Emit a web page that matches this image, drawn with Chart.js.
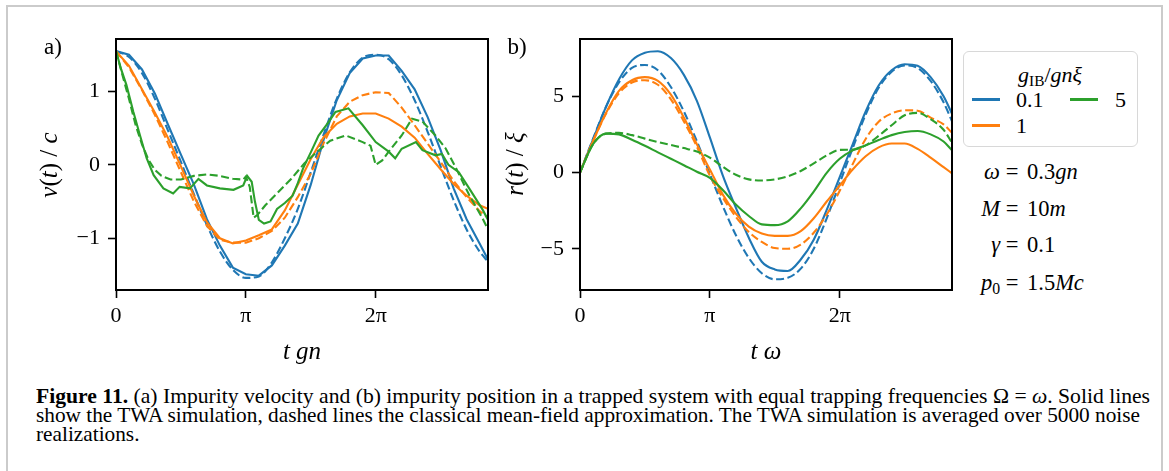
<!DOCTYPE html>
<html>
<head>
<meta charset="utf-8">
<script src="https://cdn.jsdelivr.net/npm/chart.js@4.4.1/dist/chart.umd.min.js"></script>
<style>
  body { margin: 0; background: #fff; width: 1169px; height: 471px; overflow: hidden; position: relative;
         font-family: 'Liberation Serif', serif; color: #000; }
  #frame { position: absolute; left: 6px; top: 5px; width: 1157px; height: 600px; border: 2px solid #cbcbcb; box-sizing: border-box; }
  canvas { position: absolute; top: 0; }
  .c { position: absolute; transform: translate(-50%, -50%); white-space: nowrap; line-height: 1; }
  .l { position: absolute; transform: translateY(-50%); white-space: nowrap; line-height: 1; }
  .r { position: absolute; transform: translateY(-50%); white-space: nowrap; line-height: 1; text-align: right; }
  sub { font-size: 70%; vertical-align: -0.25em; line-height: 0; }
  #legend { position: absolute; left: 963px; top: 51px; width: 175px; height: 96px; border: 1.5px solid #d8d8d8;
            border-radius: 6px; box-sizing: border-box; background: #fff; }
  .seg { position: absolute; width: 28px; height: 2.6px; }
  .cap { position: absolute; left: 36px; font-size: 21.5px; line-height: 19px; white-space: nowrap; transform-origin: 0 50%; }
</style>
</head>
<body>
<div id="frame"></div>
<canvas id="chartA" width="500" height="345" style="left:0px"></canvas>
<canvas id="chartB" width="445" height="345" style="left:520px"></canvas>

<div class="c" style="left:53px; top:46px; font-size:23px;">a)</div>
<div class="c" style="left:517px; top:46px; font-size:23px;">b)</div>

<div class="c" style="left:48px; top:165px; font-size:25px; transform: translate(-50%,-50%) rotate(-90deg);"><i>v</i>(<i>t</i>) / <i>c</i></div>
<div class="c" style="left:514px; top:164px; font-size:25px; transform: translate(-50%,-50%) rotate(-90deg);"><i>r</i>(<i>t</i>) / <i>ξ</i></div>
<div class="c" style="left:302px; top:350px; font-size:25px;"><i>t gn</i></div>
<div class="c" style="left:766px; top:350px; font-size:25px;"><i>t ω</i></div>

<div id="legend"></div>
<div class="c" style="left:1050px; top:75px; font-size:22px;"><i>g</i><sub>IB</sub>/<i>gnξ</i></div>
<div class="seg" style="left:972px; top:98px; background:#1f77b4;"></div>
<div class="l" style="left:1016px; top:100px; font-size:22px;">0.1</div>
<div class="seg" style="left:1070px; top:98px; background:#2ca02c;"></div>
<div class="l" style="left:1115px; top:100px; font-size:22px;">5</div>
<div class="seg" style="left:972px; top:124px; background:#ff7f0e;"></div>
<div class="l" style="left:1016px; top:126px; font-size:22px;">1</div>

<div class="r" style="right:169px; top:172px; font-size:22.5px;"><i>ω</i></div>
<div class="c" style="left:1012px; top:172px; font-size:22.5px;">=</div>
<div class="l" style="left:1027px; top:172px; font-size:22.5px;">0.3<i>gn</i></div>
<div class="r" style="right:169px; top:209px; font-size:22.5px;"><i>M</i></div>
<div class="c" style="left:1012px; top:209px; font-size:22.5px;">=</div>
<div class="l" style="left:1027px; top:209px; font-size:22.5px;">10<i>m</i></div>
<div class="r" style="right:169px; top:245px; font-size:22.5px;"><i>γ</i></div>
<div class="c" style="left:1012px; top:245px; font-size:22.5px;">=</div>
<div class="l" style="left:1027px; top:245px; font-size:22.5px;">0.1</div>
<div class="r" style="right:169px; top:283px; font-size:22.5px;"><i>p</i><sub>0</sub></div>
<div class="c" style="left:1012px; top:283px; font-size:22.5px;">=</div>
<div class="l" style="left:1027px; top:283px; font-size:22.5px;">1.5<i>Mc</i></div>

<div class="cap" id="cap1" style="top:387px;"><b>Figure 11.</b> (a) Impurity velocity and (b) impurity position in a trapped system with equal trapping frequencies Ω = <i>ω</i>. Solid lines</div>
<div class="cap" id="cap2" style="top:406px;">show the TWA simulation, dashed lines the classical mean-field approximation. The TWA simulation is averaged over 5000 noise</div>
<div class="cap" id="cap3" style="top:425px;">realizations.</div>

<script>
// time axis in units of pi
const tGrid = [0, 0.1, 0.2, 0.3, 0.4, 0.5, 0.6, 0.7, 0.8, 0.9, 1.0, 1.1, 1.2, 1.3, 1.4, 1.5,
  1.6, 1.7, 1.8, 1.9, 2.0, 2.1, 2.2, 2.3, 2.4, 2.5, 2.6, 2.7, 2.8, 2.865];

// (a) velocity v(t)/c
const vBlueTwa = [1.55, 1.50, 1.30, 0.97, 0.55, 0.14, -0.27, -0.74, -1.1, -1.4, -1.49, -1.51, -1.37, -1.1, -0.8,
  -0.27, 0.35, 0.88, 1.25, 1.45, 1.49, 1.49, 1.28, 1.03, 0.65, 0.2, -0.32, -0.74, -1.07, -1.29];
const vBlueMf = [1.55, 1.47, 1.25, 0.9, 0.47, 0.04, -0.4, -0.82, -1.18, -1.43, -1.54, -1.52, -1.33, -1.0, -0.6,
  -0.1, 0.42, 0.9, 1.26, 1.46, 1.5, 1.44, 1.22, 0.88, 0.45, -0.02, -0.48, -0.88, -1.18, -1.32];
const vOrangeTwa = [1.55, 1.35, 1.03, 0.71, 0.37, -0.02, -0.42, -0.78, -1.0, -1.07, -1.03, -0.96, -0.88, -0.62, -0.27,
  0.08, 0.38, 0.56, 0.66, 0.7, 0.7, 0.63, 0.52, 0.37, 0.15, -0.06, -0.26, -0.42, -0.55, -0.6];
const vOrangeMf = [1.55, 1.33, 1.02, 0.68, 0.3, -0.1, -0.5, -0.83, -1.02, -1.06, -1.06, -1.0, -0.9, -0.72, -0.44,
  -0.12, 0.3, 0.66, 0.86, 0.95, 0.99, 0.98, 0.78, 0.54, 0.29, 0.04, -0.22, -0.44, -0.63, -0.72];

const tGreenTwa = [0, 0.04, 0.08, 0.134, 0.185, 0.236, 0.29, 0.365, 0.44, 0.49, 0.57, 0.635, 0.7, 0.8, 0.905,
  0.98, 1.01, 1.045, 1.07, 1.1, 1.14, 1.19, 1.24, 1.3, 1.36, 1.4, 1.44, 1.5, 1.56, 1.64, 1.69, 1.79, 1.9,
  2.0, 2.1, 2.15, 2.2, 2.31, 2.36, 2.46, 2.51, 2.56, 2.64, 2.72, 2.82, 2.865];
const vGreenTwa = [1.55, 1.3, 1.09, 0.72, 0.4, 0.09, -0.14, -0.32, -0.39, -0.3, -0.32, -0.19, -0.28, -0.32, -0.34,
  -0.28, -0.15, -0.23, -0.5, -0.75, -0.8, -0.77, -0.6, -0.52, -0.42, -0.25, -0.05, 0.17, 0.4, 0.59, 0.72, 0.77, 0.54,
  0.31, 0.18, 0.09, 0.22, 0.31, 0.2, 0.13, 0.15, 0.0, -0.1, -0.32, -0.6, -0.75];
const tGreenMf = [0, 0.05, 0.1, 0.15, 0.2, 0.25, 0.3, 0.35, 0.42, 0.5, 0.6, 0.7, 0.8, 0.9, 0.98, 1.0, 1.03, 1.06,
  1.09, 1.15, 1.25, 1.35, 1.45, 1.55, 1.65, 1.77, 1.9, 1.96, 2.0, 2.05, 2.1, 2.2, 2.28, 2.36, 2.46, 2.54, 2.62,
  2.72, 2.82, 2.865];
const vGreenMf = [1.55, 1.22, 0.9, 0.55, 0.28, 0.07, -0.07, -0.15, -0.2, -0.2, -0.15, -0.13, -0.15, -0.19, -0.2,
  -0.16, -0.3, -0.72, -0.68, -0.55, -0.37, -0.19, 0.02, 0.18, 0.33, 0.4, 0.31, 0.26, 0.0, 0.06, 0.18, 0.4, 0.63,
  0.59, 0.4, 0.22, -0.05, -0.41, -0.72, -0.88];

// (b) position r(t)/xi
const rBlueTwa = [0, 2.15, 4.3, 6.1, 7.35, 7.85, 7.95, 7.5, 6.4, 4.7, 2.3, -0.2, -2.3, -4.28, -5.85,
  -6.35, -6.45, -5.7, -4.4, -2.45, -0.3, 1.85, 4.0, 5.7, 6.7, 7.1, 7.0, 6.25, 5.0, 3.85];
const rBlueMf = [0, 2.2, 4.3, 5.9, 6.85, 7.05, 6.7, 5.6, 4.0, 2.05, -0.1, -2.2, -4.1, -5.6, -6.6,
  -7.0, -6.9, -6.3, -5.0, -3.0, -0.7, 1.6, 3.8, 5.55, 6.6, 7.02, 6.85, 6.0, 4.6, 3.35];
const rOrangeTwa = [0, 2.05, 3.9, 5.35, 6.05, 6.25, 6.0, 5.1, 3.6, 1.85, 0.2, -1.45, -2.7, -3.55, -4.0,
  -4.15, -4.15, -3.84, -3.0, -1.9, -0.85, 0.2, 1.07, 1.65, 1.9, 1.9, 1.55, 0.98, 0.35, -0.05];
const rOrangeMf = [0, 2.05, 3.85, 5.2, 5.9, 6.05, 5.75, 4.8, 3.35, 1.7, -0.2, -1.65, -2.9, -3.9, -4.55,
  -4.95, -5.0, -4.72, -3.95, -2.75, -1.2, 0.55, 2.2, 3.33, 3.87, 4.08, 4.05, 3.6, 3.15, 2.6];
const rGreenTwa = [0, 1.85, 2.55, 2.5, 2.15, 1.75, 1.32, 0.9, 0.48, 0.05, -0.35, -1.15, -2.1, -2.85, -3.4,
  -3.45, -3.2, -2.35, -1.25, -0.02, 0.9, 1.45, 1.78, 2.13, 2.45, 2.65, 2.72, 2.5, 2.03, 1.45];
const rGreenMf = [0, 1.85, 2.55, 2.6, 2.45, 2.22, 2.0, 1.8, 1.6, 1.37, 0.98, 0.38, -0.15, -0.45, -0.52,
  -0.45, -0.25, 0.1, 0.6, 1.12, 1.48, 1.5, 1.78, 2.4, 3.1, 3.75, 3.91, 3.5, 2.8, 1.95];

// ticks
const xTickVals = [0, Math.PI, 2 * Math.PI];
const xTickLabels = ['0', 'π', '2π'];
const vTickVals = [-1, 0, 1];
const vTickLabels = ['−1', '0', '1'];
const rTickVals = [-5, 0, 5];
const rTickLabels = ['−5', '0', '5'];

const BLUE = '#1f77b4', ORANGE = '#ff7f0e', GREEN = '#2ca02c';
const FONT = "'Liberation Serif', serif";

function pts(tPi, vals) {
  return tPi.map((u, i) => ({ x: u * Math.PI, y: vals[i] }));
}

function line(tPi, vals, color, dashed, smooth, order) {
  return {
    data: pts(tPi, vals),
    borderColor: color,
    borderWidth: 2.1,
    borderDash: dashed ? [8, 3.5] : [],
    pointRadius: 0,
    fill: false,
    tension: 0,
    cubicInterpolationMode: smooth ? 'monotone' : 'default',
    order: order
  };
}

// black box around the plot area, like matplotlib spines
const boxPlugin = {
  id: 'box',
  afterDatasetsDraw(chart) {
    const { ctx, chartArea: a } = chart;
    ctx.save();
    ctx.strokeStyle = '#000';
    ctx.lineWidth = 2;
    ctx.strokeRect(a.left, a.top, a.right - a.left, a.bottom - a.top);
    ctx.restore();
  }
};

function makeScales(yMin, yMax, yVals, yLabels, yWidth) {
  const tickFont = { family: FONT, size: 22 };
  return {
    x: {
      type: 'linear', min: 0, max: 9,
      afterBuildTicks: s => { s.ticks = xTickVals.map(v => ({ value: v })); },
      afterFit: s => { s.height = 55; },
      grid: { drawOnChartArea: false, tickLength: 8, tickWidth: 1.6, tickColor: '#000' },
      border: { display: false },
      ticks: { color: '#000', font: tickFont, padding: 5, maxRotation: 0, autoSkip: false,
               callback: (v, i) => xTickLabels[i] }
    },
    y: {
      min: yMin, max: yMax,
      afterBuildTicks: s => { s.ticks = yVals.map(v => ({ value: v })); },
      afterFit: s => { s.width = yWidth; },
      grid: { drawOnChartArea: false, tickLength: 8, tickWidth: 1.6, tickColor: '#000' },
      border: { display: false },
      ticks: { color: '#000', font: tickFont, padding: 8, autoSkip: false,
               callback: (v, i) => yLabels[i] }
    }
  };
}

function baseOptions(padRight, scales) {
  return {
    responsive: false,
    animation: false,
    events: [],
    layout: { padding: { left: 0, top: 39, right: padRight, bottom: 0 } },
    plugins: { legend: { display: false }, tooltip: { enabled: false } },
    scales: scales
  };
}

new Chart(document.getElementById('chartA'), {
  type: 'line',
  data: {
    datasets: [
      line(tGrid, vBlueTwa, BLUE, false, false, 6),
      line(tGrid, vBlueMf, BLUE, true, true, 5),
      line(tGrid, vOrangeTwa, ORANGE, false, false, 4),
      line(tGrid, vOrangeMf, ORANGE, true, false, 3),
      line(tGreenTwa, vGreenTwa, GREEN, false, false, 2),
      line(tGreenMf, vGreenMf, GREEN, true, false, 1)
    ]
  },
  options: baseOptions(12, makeScales(-1.705, 1.715, vTickVals, vTickLabels, 116)),
  plugins: [boxPlugin]
});

new Chart(document.getElementById('chartB'), {
  type: 'line',
  data: {
    datasets: [
      line(tGrid, rBlueTwa, BLUE, false, true, 6),
      line(tGrid, rBlueMf, BLUE, true, true, 5),
      line(tGrid, rOrangeTwa, ORANGE, false, true, 4),
      line(tGrid, rOrangeMf, ORANGE, true, true, 3),
      line(tGrid, rGreenTwa, GREEN, false, true, 2),
      line(tGrid, rGreenMf, GREEN, true, true, 1)
    ]
  },
  options: baseOptions(13, makeScales(-7.7, 8.75, rTickVals, rTickLabels, 60)),
  plugins: [boxPlugin]
});

// squeeze caption lines to the reference widths; last line uses the same squeeze as line 2
const cap1 = document.getElementById('cap1');
const cap2 = document.getElementById('cap2');
const cap3 = document.getElementById('cap3');
const k1 = 1114 / cap1.getBoundingClientRect().width;
const k2 = 1104 / cap2.getBoundingClientRect().width;
cap1.style.transform = 'scaleX(' + k1 + ')';
cap2.style.transform = 'scaleX(' + k2 + ')';
cap3.style.transform = 'scaleX(' + k2 + ')';
</script>
</body>
</html>
